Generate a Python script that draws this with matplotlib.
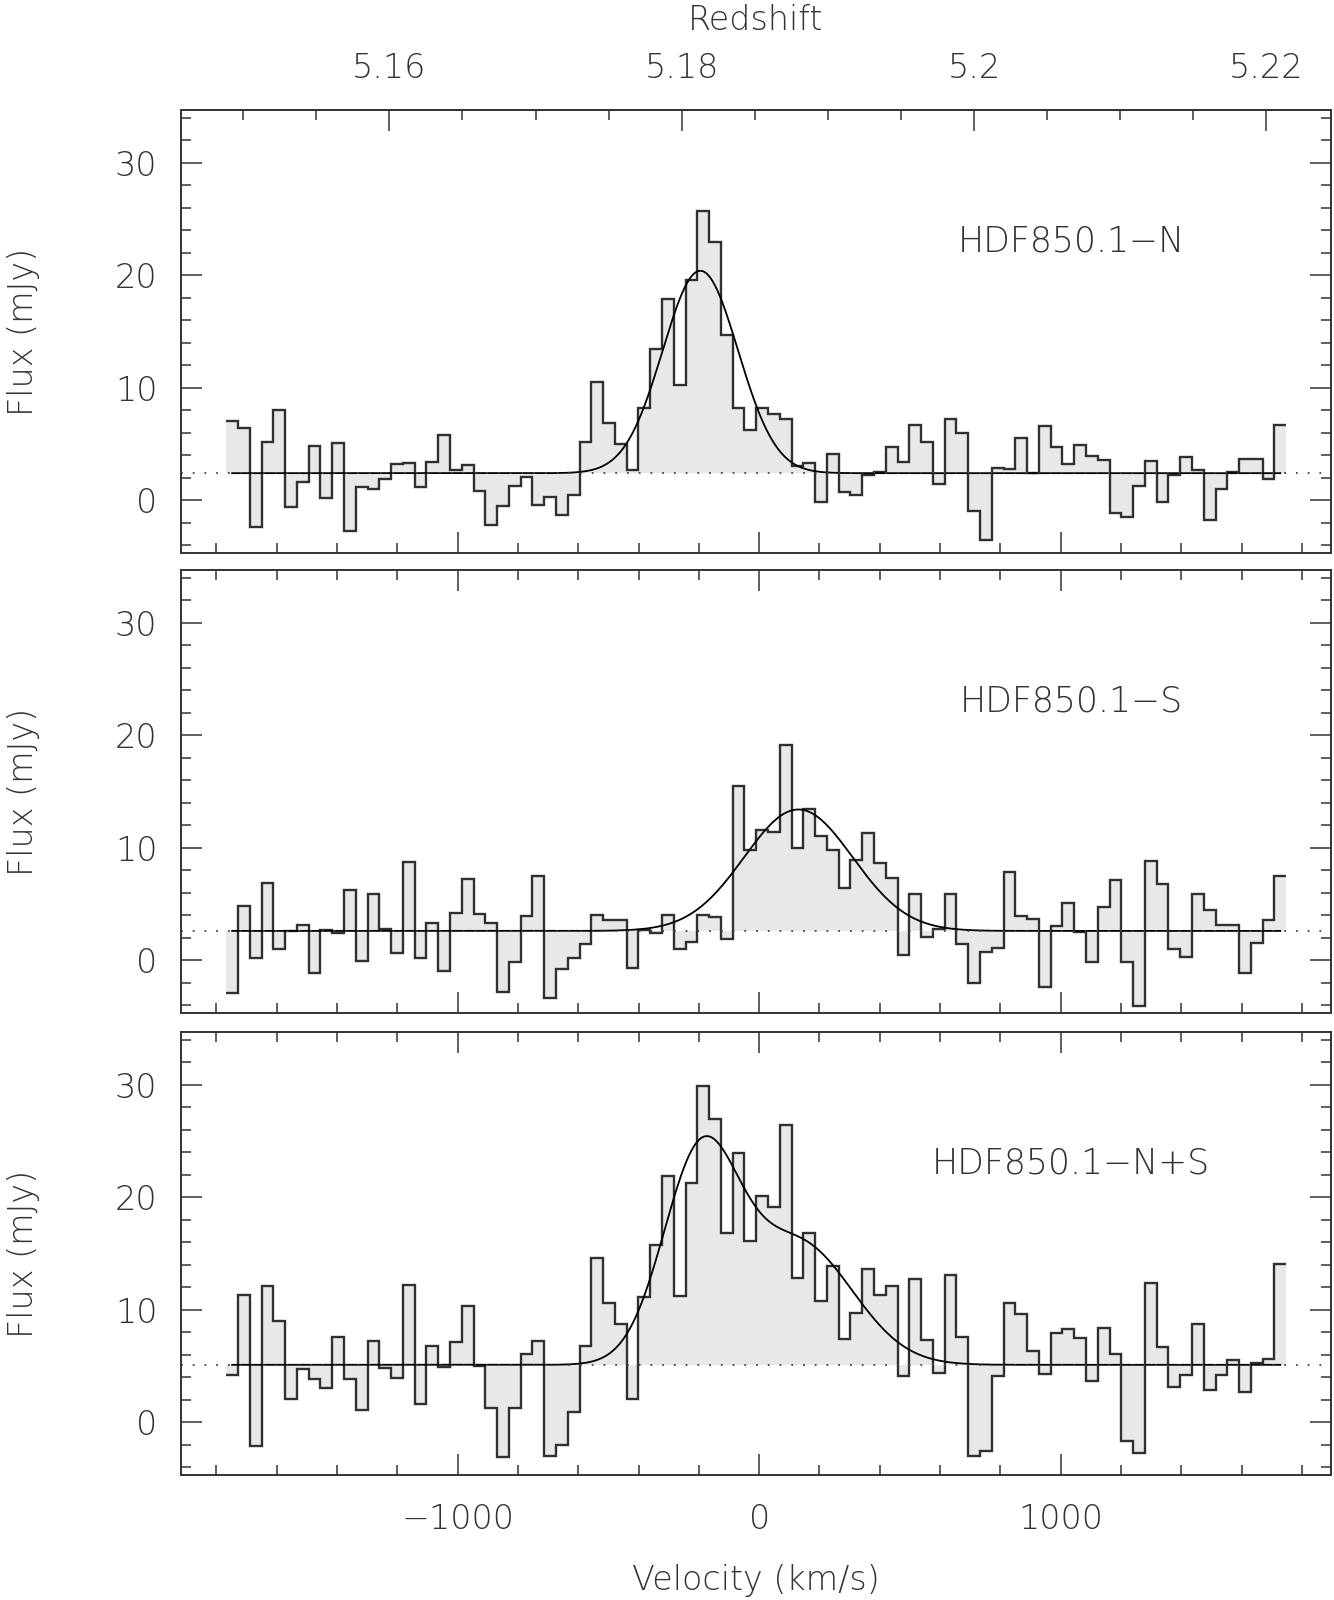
import numpy as np
import matplotlib
matplotlib.use("Agg")
import matplotlib.pyplot as plt
from matplotlib.ticker import MultipleLocator

# channel grid (km/s)
v_start = -1767.0
chan_width = 39.05
n_chan = 90

# spectra (mJy), one value per channel
flux_n = [7.0, 6.4, -2.4, 5.2, 8.0, -0.65, 1.6, 4.8, 0.2, 5.1,
          -2.7, 1.2, 1.0, 1.9, 3.2, 3.3, 1.2, 3.4, 5.8, 2.7,
          3.1, 0.8, -2.2, -0.5, 1.3, 2.1, -0.4, 0.3, -1.3, 0.5,
          5.2, 10.5, 6.9, 5.0, 2.7, 8.2, 13.4, 17.9, 10.2, 19.6,
          25.7, 23.0, 14.7, 8.2, 6.2, 8.2, 7.7, 7.2, 3.0, 3.3,
          -0.15, 4.1, 0.7, 0.5, 2.2, 2.5, 4.7, 3.4, 6.7, 5.2,
          1.4, 7.2, 6.0, -1.0, -3.5, 2.9, 2.8, 5.5, 2.4, 6.6,
          4.7, 3.2, 4.9, 3.9, 3.6, -1.1, -1.5, 1.3, 3.5, -0.15,
          2.2, 3.8, 2.7, -1.8, 1.0, 2.5, 3.7, 3.7, 1.9, 6.7]

flux_s = [-2.9, 4.8, 0.15, 6.9, 0.95, 2.6, 3.1, -1.1, 2.7, 2.4,
          6.2, -0.1, 5.9, 2.8, 0.6, 8.7, 0.2, 3.3, -1.0, 4.2,
          7.2, 4.1, 3.3, -2.8, -0.2, 3.9, 7.5, -3.4, -0.8, 0.2,
          1.4, 4.0, 3.6, 3.6, -0.7, 2.7, 2.4, 4.0, 0.95, 1.6,
          4.0, 3.8, 1.9, 15.5, 9.8, 11.6, 11.4, 19.1, 10.0, 13.4,
          11.0, 9.8, 6.4, 8.9, 11.3, 8.6, 7.3, 0.5, 5.9, 2.1,
          2.8, 5.9, 1.4, -2.0, 0.7, 1.1, 7.8, 3.9, 3.7, -2.4,
          3.0, 5.1, 2.5, -0.2, 4.7, 7.1, -0.2, -4.1, 8.8, 6.8,
          1.0, 0.3, 5.9, 4.5, 3.1, 3.1, -1.1, 1.5, 3.6, 7.5]

flux_ns = [4.2, 11.3, -2.1, 12.1, 9.0, 2.1, 4.7, 3.8, 3.0, 7.6,
           3.8, 1.1, 7.2, 4.8, 3.9, 12.2, 1.6, 6.8, 4.9, 7.1,
           10.3, 5.0, 1.3, -3.1, 1.3, 6.1, 7.2, -3.0, -2.0, 0.9,
           6.8, 14.6, 10.6, 8.7, 2.1, 11.1, 15.8, 21.9, 11.2, 21.3,
           29.9, 27.0, 16.8, 23.9, 16.1, 20.1, 19.1, 26.4, 12.8, 16.8,
           10.8, 13.9, 7.4, 9.7, 13.6, 11.3, 12.1, 4.1, 12.7, 7.3,
           4.4, 13.1, 7.6, -3.0, -2.6, 4.1, 10.6, 9.6, 6.3, 4.3,
           7.9, 8.3, 7.5, 3.7, 8.4, 6.1, -1.7, -2.7, 12.4, 6.7,
           3.1, 4.2, 8.7, 2.9, 4.2, 5.5, 2.7, 5.3, 5.6, 14.1]

# continuum levels and gaussian fits (amp mJy, centre km/s, sigma km/s)
continuum = [2.4, 2.6, 5.1]
gauss_n = [18.0, -195.0, 125.0]
gauss_s = [10.8, 130.0, 180.0]

labels = ["HDF850.1\u2212N", "HDF850.1\u2212S", "HDF850.1\u2212N+S"]

z_sys = 5.1853
z_ticks = [5.16, 5.18, 5.20, 5.22]
z_ticklabels = ["5.16", "5.18", "5.2", "5.22"]

C_KMS = 299792.458


def v2z(v):
    return z_sys + np.asarray(v) * (1 + z_sys) / C_KMS


def z2v(z):
    return (np.asarray(z) - z_sys) * C_KMS / (1 + z_sys)


def gauss(v, p):
    return p[0] * np.exp(-0.5 * ((v - p[1]) / p[2]) ** 2)


edges = v_start + chan_width * np.arange(n_chan + 1)
centres = 0.5 * (edges[:-1] + edges[1:])
vv = np.linspace(centres[0], centres[-1], 800)
fits = [continuum[0] + gauss(vv, gauss_n),
        continuum[1] + gauss(vv, gauss_s),
        continuum[2] + gauss(vv, gauss_n) + gauss(vv, gauss_s)]
spectra = [flux_n, flux_s, flux_ns]

plt.rcParams['font.family'] = ['DejaVu Sans']
plt.rcParams['font.weight'] = 'light'
plt.rcParams['axes.labelweight'] = 'light'
text_col = '#333333'

fig = plt.figure(figsize=(13.34, 16), dpi=100)
left, width, height = 181 / 1334, 1150 / 1334, 443 / 1600
bottoms = [1 - 553 / 1600, 1 - 1013 / 1600, 1 - 1475 / 1600]

for i in range(3):
    ax = fig.add_axes([left, bottoms[i], width, height])
    vals = np.array(spectra[i])
    # grey fill between spectrum and continuum
    ax.stairs(vals, edges, baseline=continuum[i], fill=True,
              color='#e8e8e8', lw=0)
    ax.stairs(vals, edges, baseline=None, color='#303030', lw=1.7)
    ax.plot(vv, fits[i], color='black', lw=1.3)
    ax.axhline(continuum[i], color='#444444', lw=1.3, ls=(0, (1, 5.5)))

    ax.text(1035, 23, labels[i], ha='center', va='center',
            fontsize=25, color=text_col, fontweight='light')

    ax.set_xlim(-1917, 1896)
    ax.set_ylim(-4.7, 34.7)
    ax.xaxis.set_major_locator(MultipleLocator(1000))
    ax.xaxis.set_minor_locator(MultipleLocator(200))
    ax.yaxis.set_major_locator(MultipleLocator(10))
    ax.yaxis.set_minor_locator(MultipleLocator(2))
    ax.tick_params(which='both', direction='in', top=True, right=True,
                   width=1.1, color='#333333', labelcolor=text_col,
                   labelsize=24)
    ax.tick_params(which='major', length=15)
    ax.tick_params(which='minor', length=7.5)
    ax.tick_params(axis='y', pad=17)
    ax.tick_params(axis='x', pad=20)
    for sp in ax.spines.values():
        sp.set_linewidth(1.4)
        sp.set_color('#333333')

    ax.set_ylabel("Flux (mJy)", fontsize=24, color=text_col, labelpad=54,
                  fontweight='light')

    if i < 2:
        ax.tick_params(axis='x', labelbottom=False)
    else:
        ax.set_xlabel("Velocity (km/s)", fontsize=24, color=text_col,
                      labelpad=20, fontweight='light')

    if i == 0:
        ax.tick_params(axis='x', which='both', top=False)
        sec = ax.secondary_xaxis('top', functions=(v2z, z2v))
        sec.set_xticks(z_ticks, labels=z_ticklabels)
        sec.xaxis.set_minor_locator(MultipleLocator(0.005))
        sec.tick_params(which='both', direction='in', width=1.1,
                        color='#333333', labelcolor=text_col,
                        labelsize=24, pad=18)
        sec.tick_params(which='major', length=15)
        sec.tick_params(which='minor', length=7.5)
        sec.spines['top'].set_linewidth(1.4)
        sec.spines['top'].set_color('#333333')
        sec.set_xlabel("Redshift", fontsize=24, color=text_col,
                       labelpad=16, fontweight='light')

fig.savefig("out.png", dpi=100)
